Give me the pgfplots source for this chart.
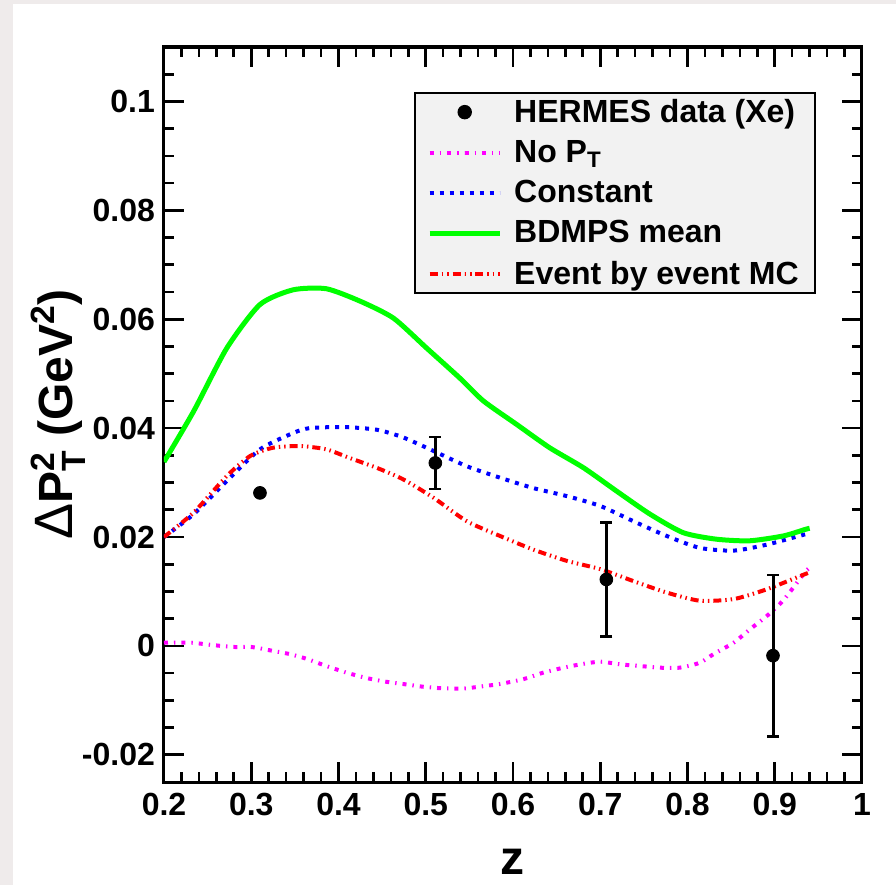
\documentclass[border=0pt]{standalone}
\usepackage{fontspec}
\setmainfont{Liberation Sans}
\usepackage{amsmath}
\usepackage{pgfplots}
\pgfplotsset{compat=1.18}
\definecolor{bggray}{HTML}{EFEBEB}
\definecolor{leggray}{HTML}{F2F2F2}
\definecolor{rgreen}{HTML}{00FF00}
\definecolor{rblue}{HTML}{0000FF}
\definecolor{rred}{HTML}{FF0000}
\definecolor{rmag}{HTML}{FF00FF}
\begin{document}
\begin{tikzpicture}
\fill[bggray] (-82pt,-51.5pt) rectangle (366pt,391pt);
\fill[white] (-75.5pt,-51.5pt) rectangle (366pt,389pt);
\begin{axis}[
  at={(0pt,0pt)}, anchor=south west,
  scale only axis, width=349pt, height=367.5pt,
  xmin=0.2, xmax=1, ymin=-0.025, ymax=0.11,
  axis line style={line width=1.5pt},
  tick align=inside, xtick pos=both, ytick pos=both,
  xticklabel pos=lower, yticklabel pos=left,
  major tick length=10pt, minor tick length=5pt,
  every tick/.style={black, line width=1.3pt},
  xtick={0.2,0.3,0.4,0.5,0.6,0.7,0.8,0.9,1},
  xticklabels={0.2,0.3,0.4,0.5,0.6,0.7,0.8,0.9,1},
  minor xtick={0.22,0.24,0.26,0.28,0.32,0.34,0.36,0.38,0.42,0.44,0.46,0.48,0.52,0.54,0.56,0.58,0.62,0.64,0.66,0.68,0.72,0.74,0.76,0.78,0.82,0.84,0.86,0.88,0.92,0.94,0.96,0.98},
  ytick={-0.02,0,0.02,0.04,0.06,0.08,0.1},
  yticklabels={-0.02,0,0.02,0.04,0.06,0.08,0.1},
  minor ytick={-0.015,-0.01,-0.005,0.005,0.01,0.015,0.025,0.03,0.035,0.045,0.05,0.055,0.065,0.07,0.075,0.085,0.09,0.095,0.105},
  ticklabel style={font=\fontsize{16}{19}\selectfont\bfseries},
  xticklabel style={yshift=-2pt},
  yticklabel style={xshift=-1pt},
  xlabel={z},
  xlabel style={font=\fontsize{24}{28}\selectfont\bfseries, at={(axis description cs:0.5,-0.109)}, anchor=center},
  ylabel={{\mdseries\fontsize{27}{30}\selectfont Δ}P$^{\text{2}}_{\text{T}}$ (GeV$^{\text{2}}$)},
  ylabel style={font=\fontsize{24}{28}\selectfont\bfseries, at={(axis description cs:-0.152,0.5)}, anchor=center},
  legend style={at={(0.934,0.939)}, anchor=north east, draw=black, line width=1.2pt, fill=leggray,
    font=\fontsize{16}{19}\selectfont\bfseries, inner xsep=6pt, inner ysep=1pt, row sep=3.5pt, column sep=4pt},
  legend cell align=left,
  legend image code/.code={\draw[mark repeat=2,mark phase=2,#1] plot coordinates {(0pt,0pt) (17.5pt,0pt) (35pt,0pt)};},
]
\addlegendimage{only marks, mark=*, black, mark size=3pt}
\addlegendentry{HERMES data (Xe)}

\addplot[rmag, line width=2pt, smooth, tension=0.4, dash pattern=on 2pt off 3pt on 0.7pt off 3pt] coordinates {
(0.200,0.0006) (0.230,0.0006) (0.253,0.0002) (0.279,-0.0002) (0.300,-0.0002) (0.321,-0.0008)
(0.344,-0.0015) (0.364,-0.0024) (0.386,-0.0037) (0.409,-0.0049) (0.432,-0.0059) (0.455,-0.0066)
(0.474,-0.0070) (0.497,-0.0075) (0.520,-0.0078) (0.545,-0.0078) (0.566,-0.0074) (0.585,-0.0070)
(0.612,-0.0061) (0.635,-0.0049) (0.658,-0.0040) (0.677,-0.0034) (0.700,-0.0029) (0.723,-0.0034)
(0.746,-0.0037) (0.768,-0.0040) (0.791,-0.0040) (0.814,-0.0031) (0.830,-0.0015) (0.853,0.0006)
(0.872,0.0031) (0.891,0.0055) (0.910,0.0084) (0.935,0.0136) (0.94,0.0143)};
\addlegendentry{No P$_{\text{T}}$}

\addplot[rblue, line width=2pt, smooth, tension=0.4, dash pattern=on 2pt off 3pt] coordinates {
(0.200,0.0200) (0.234,0.0242) (0.272,0.0303) (0.310,0.0361) (0.348,0.0391) (0.367,0.0400)
(0.406,0.0402) (0.444,0.0397) (0.474,0.0383) (0.509,0.0358) (0.547,0.0330) (0.585,0.0309)
(0.623,0.0290) (0.662,0.0275) (0.700,0.0257) (0.738,0.0229) (0.776,0.0202) (0.814,0.0180)
(0.853,0.0175) (0.891,0.0186) (0.935,0.0205) (0.94,0.0207)};
\addlegendentry{Constant}

\addplot[rgreen, line width=2.5pt, smooth, tension=0.4] coordinates {
(0.200,0.0338) (0.234,0.0431) (0.272,0.0547) (0.310,0.0627) (0.348,0.0654) (0.386,0.0656)
(0.425,0.0633) (0.463,0.0602) (0.501,0.0547) (0.539,0.0492) (0.566,0.0450) (0.604,0.0407)
(0.642,0.0364) (0.681,0.0327) (0.719,0.0284) (0.757,0.0242) (0.795,0.0208) (0.833,0.0196)
(0.871,0.0193) (0.910,0.0202) (0.935,0.0214) (0.94,0.0216)};
\addlegendentry{BDMPS mean}

\addplot[rred, line width=2pt, smooth, tension=0.4, dash pattern=on 4pt off 2pt on 0.7pt off 2pt on 0.7pt off 2pt] coordinates {
(0.200,0.0200) (0.234,0.0245) (0.272,0.0312) (0.299,0.0349) (0.325,0.0364) (0.356,0.0367)
(0.386,0.0361) (0.413,0.0345) (0.444,0.0327) (0.474,0.0306) (0.509,0.0272) (0.547,0.0229)
(0.585,0.0202) (0.623,0.0177) (0.662,0.0156) (0.700,0.0141) (0.738,0.0119) (0.776,0.0098)
(0.814,0.0083) (0.853,0.0086) (0.891,0.0104) (0.935,0.0132) (0.94,0.0135)};
\addlegendentry{Event by event MC}

\addplot[forget plot, only marks, mark=*, black, mark size=3.2pt,
  error bars/.cd, y dir=both, y explicit,
  error bar style={line width=1.5pt, black},
  error mark options={rotate=90, black, mark size=3pt, line width=1.3pt}]
  table[x=x, y=y, y error=e] {
x y e
0.310 0.0281 0.0
0.511 0.0336 0.0048
0.707 0.0122 0.0105
0.898 -0.0018 0.0148
};
\end{axis}
\end{tikzpicture}
\end{document}
